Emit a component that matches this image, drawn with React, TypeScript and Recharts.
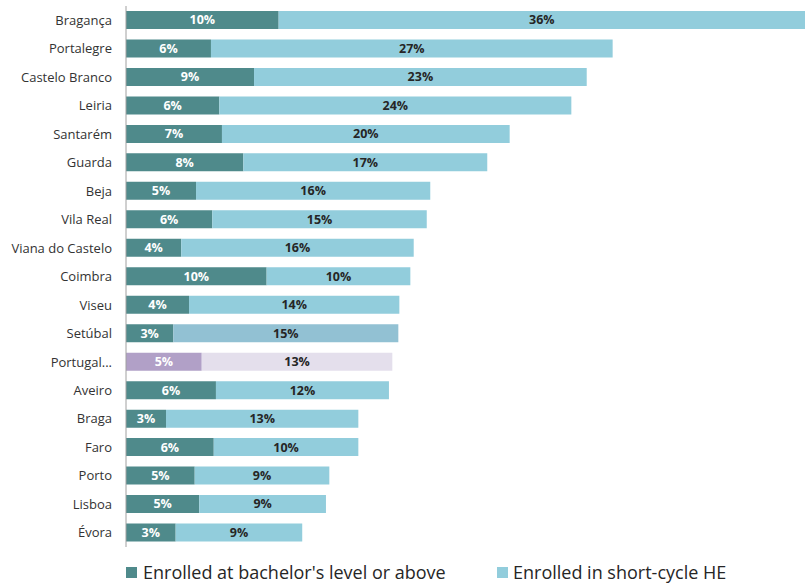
import React from "react";
import {
  BarChart,
  Bar,
  XAxis,
  YAxis,
  Cell,
  LabelList,
  Legend,
} from "recharts";

const regions = [
  "Bragança",
  "Portalegre",
  "Castelo Branco",
  "Leiria",
  "Santarém",
  "Guarda",
  "Beja",
  "Vila Real",
  "Viana do Castelo",
  "Coimbra",
  "Viseu",
  "Setúbal",
  "Portugal...",
  "Aveiro",
  "Braga",
  "Faro",
  "Porto",
  "Lisboa",
  "Évora",
];

const bachelor = [
  10.42, 5.8, 8.74, 6.37, 6.55, 8.01, 4.78, 5.89, 3.77, 9.6, 4.3, 3.23, 5.17,
  6.14, 2.73, 5.99, 4.69, 5.0, 3.39,
];

const shortCycle = [
  35.93, 27.42, 22.71, 24.03, 19.64, 16.65, 15.99, 14.64, 15.87, 9.81, 14.36,
  15.36, 13.01, 11.81, 13.13, 9.87, 9.19, 8.65, 8.64,
];

const seriesNames = ["Enrolled at bachelor's level or above", "Enrolled in short-cycle HE"];

const TEAL = "#4f8a8b";
const LIGHT = "#92cddc";

const data = regions.map((name, i) => ({
  name,
  bachelor: bachelor[i],
  shortCycle: shortCycle[i],
}));

const firstColor = (name: string) => (name.startsWith("Portugal") ? "#b1a0c7" : TEAL);
const secondColor = (name: string) => {
  if (name.startsWith("Portugal")) return "#e4dfec";
  if (name === "Setúbal") return "#92c1d3";
  return LIGHT;
};

const pct = (v: any) => `${Math.round(Number(v))}%`;

const LegendContent = () => (
  <div style={{ display: "flex", alignItems: "center", color: "#262626", fontSize: 18, lineHeight: "22px" }}>
    {[TEAL, LIGHT].map((c, i) => (
      <div
        key={i}
        style={{ display: "flex", alignItems: "center", width: i === 0 ? 371 : 300 }}
      >
        <span
          style={{
            display: "inline-block",
            width: 11,
            height: 11,
            background: c,
            marginRight: i === 0 ? 6 : 5,
          }}
        />
        <span>{seriesNames[i]}</span>
      </div>
    ))}
  </div>
);

export default function App() {
  return (
    <div
      style={{
        position: "absolute",
        left: 0,
        top: 0,
        width: 805,
        height: 584,
        fontFamily: "'Open Sans', sans-serif",
        background: "#fff",
      }}
    >
      <BarChart
        width={805}
        height={584}
        data={data}
        layout="vertical"
        margin={{ top: 6, right: 0, bottom: 37, left: 0 }}
        barSize={18}
      >
        <XAxis type="number" hide domain={[0, 46.35]} allowDataOverflow />
        <YAxis
          type="category"
          dataKey="name"
          width={126}
          tickLine={false}
          tickSize={0}
          tickMargin={14}
          axisLine={{ stroke: "#a0a0a0" }}
          tick={{ fill: "#333333", fontSize: 13 }}
          interval={0}
        />
        <Legend
          layout="horizontal"
          verticalAlign="middle"
          align="center"
          content={<LegendContent />}
          wrapperStyle={{ top: 561, left: 126, width: 679, height: 22 }}
        />
        <Bar dataKey="bachelor" stackId="a" isAnimationActive={false}>
          {data.map((d, i) => (
            <Cell key={i} fill={firstColor(d.name)} />
          ))}
          <LabelList
            dataKey="bachelor"
            position="center"
            formatter={pct}
            fill="#ffffff"
            fontSize={12.5}
            fontWeight={700}
          />
        </Bar>
        <Bar dataKey="shortCycle" stackId="a" isAnimationActive={false}>
          {data.map((d, i) => (
            <Cell key={i} fill={secondColor(d.name)} />
          ))}
          <LabelList
            dataKey="shortCycle"
            position="center"
            formatter={pct}
            fill="#262626"
            fontSize={12.5}
            fontWeight={700}
          />
        </Bar>
      </BarChart>
    </div>
  );
}
